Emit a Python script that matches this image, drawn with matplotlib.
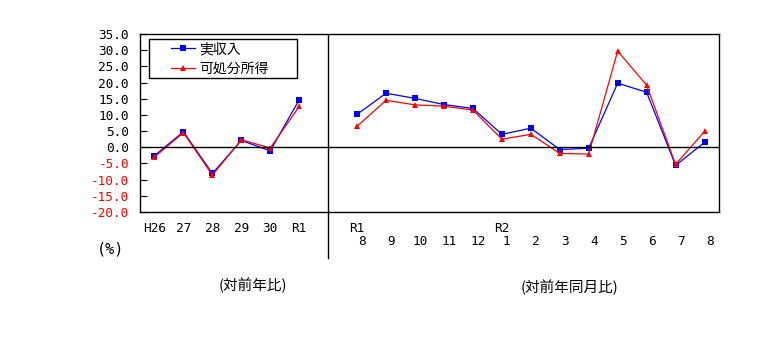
import matplotlib
matplotlib.use("Agg")
import matplotlib.pyplot as plt
import numpy as np
from matplotlib.patches import Rectangle
from matplotlib.lines import Line2D

plt.rcParams['font.family'] = ['Noto Sans CJK JP', 'DejaVu Sans']
MONO = ['DejaVu Sans Mono', 'Noto Sans CJK JP']

# yearly change (対前年比)
year_labels = ['H26', '27', '28', '29', '30', 'R1']
income_year = [-2.6, 4.8, -8.1, 2.1, -1.1, 14.7]
disp_year = [-3.0, 4.5, -8.6, 2.3, -0.2, 12.6]

# monthly change (対前年同月比), R1.8 - R2.8
month_labels = ['8', '9', '10', '11', '12', '1', '2', '3', '4', '5', '6', '7', '8']
era_labels = ['R1', '', '', '', '', 'R2', '', '', '', '', '', '', '']
income_month = [10.2, 16.7, 15.1, 13.2, 12.0, 4.0, 5.9, -0.7, -0.3, 19.8, 17.0, -5.6, 1.5]
disp_month = [6.5, 14.5, 13.1, 12.7, 11.5, 2.5, 4.0, -1.9, -2.1, 29.7, 19.2, -5.3, 4.9]

W, H = 769, 356
fig = plt.figure(figsize=(W / 100, H / 100), dpi=100)
ax = fig.add_axes([140 / W, 1 - 212 / H, 579 / W, 178 / H])

year_x = np.arange(len(year_labels))
month_x = np.arange(len(month_labels)) + len(year_labels) + 1
split = len(year_labels)

blue = '#0000FF'
red = '#FF0000'

for xs, inc, dsp in [(year_x, income_year, disp_year), (month_x, income_month, disp_month)]:
    ax.plot(xs, inc, color=blue, lw=0.9, marker='s', markersize=4, markeredgewidth=0)
    ax.plot(xs, dsp, color=red, lw=0.9, marker='^', markersize=5, markeredgewidth=0)

ax.set_xlim(-0.5, month_x[-1] + 0.5)
ax.set_ylim(-20, 35)
ax.axhline(0, color='black', lw=1)
ax.axvline(split, color='black', lw=1)
ax.plot([split, split], [0, -0.258], color='black', lw=1,
        transform=ax.get_xaxis_transform(), clip_on=False)

yt = np.arange(-20, 36, 5)
ax.set_yticks(yt)
ax.set_yticklabels([f'{v:.1f}' for v in yt], fontsize=9.2, family=MONO)
for v, lab in zip(yt, ax.get_yticklabels()):
    lab.set_color(red if v < 0 else 'black')
ax.tick_params(axis='y', direction='in', length=5, pad=8)
ax.set_xticks([])
for s in ax.spines.values():
    s.set_linewidth(1)
    s.set_color('black')

tr = ax.get_xaxis_transform()
for x, lab in zip(year_x, year_labels):
    ax.text(x, -0.09, lab, transform=tr, ha='center', va='center', fontsize=9.2, family=MONO)
for x, lab, era in zip(month_x, month_labels, era_labels):
    if era:
        ax.text(x, -0.09, era, transform=tr, ha='center', va='center', fontsize=9.2, family=MONO)
    ax.text(x + 0.17, -0.1685, lab, transform=tr, ha='center', va='center',
            fontsize=9.2, family=MONO)

fig.text(111 / W, 1 - 249 / H, '(%)', ha='center', va='center', fontsize=11, family=MONO)
fig.text(253 / W, 1 - 285 / H, '(対前年比)', ha='center', va='center', fontsize=10.5)
fig.text(570 / W, 1 - 287 / H, '(対前年同月比)', ha='center', va='center', fontsize=10.5)

# legend box
fig.add_artist(Rectangle((149 / W, 1 - 78 / H), 148 / W, 39 / H, transform=fig.transFigure,
                         fill=False, edgecolor='black', lw=1))
handles = [Line2D([], [], color=blue, lw=0.9, marker='s', markersize=4, markeredgewidth=0),
           Line2D([], [], color=red, lw=0.9, marker='^', markersize=5, markeredgewidth=0)]
ax.legend(handles, ['実収入', '可処分所得'], loc='upper left',
          bbox_to_anchor=(171 / W, 1 - 42 / H), bbox_transform=fig.transFigure,
          frameon=False, borderpad=0, borderaxespad=0, handlelength=1.75,
          handletextpad=0.3, labelspacing=0.42, fontsize=10)

fig.savefig('out.png', dpi=100)
